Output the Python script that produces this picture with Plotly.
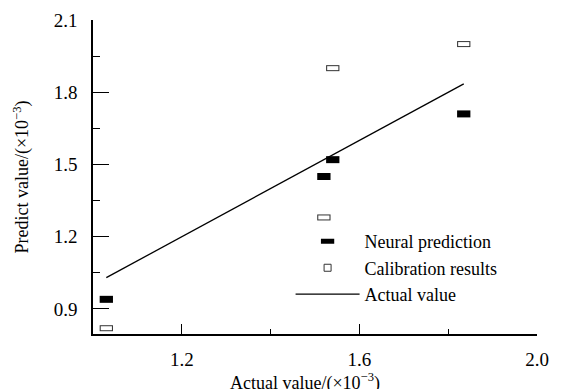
import plotly.graph_objects as go

actual = [1.03, 1.52, 1.54, 1.835]
neural_x = [1.03, 1.52, 1.54, 1.835]
neural_y = [0.94, 1.45, 1.52, 1.71]
calib_x = [1.03, 1.52, 1.54, 1.835]
calib_y = [0.82, 1.28, 1.90, 2.00]

x_ticks = [1.2, 1.6, 2.0]
x_minor = [1.4, 1.8]
y_ticks = [0.9, 1.2, 1.5, 1.8, 2.1]
y_minor = [1.05, 1.35, 1.65, 1.95]

FONT = "Liberation Serif"

fig = go.Figure()
fig.add_trace(go.Scatter(
    x=neural_x, y=neural_y, mode="markers", name="Neural prediction",
    marker=dict(symbol="line-ew", size=9.5, color="black",
                line=dict(width=7, color="black")),
))
fig.add_trace(go.Scatter(
    x=calib_x, y=calib_y, mode="markers", showlegend=False,
    marker=dict(symbol="line-ew", size=9.5, color="#333",
                line=dict(width=6, color="#333")),
))
fig.add_trace(go.Scatter(
    x=calib_x, y=calib_y, mode="markers", showlegend=False,
    marker=dict(symbol="line-ew", size=8, color="white",
                line=dict(width=4, color="white")),
))
fig.add_trace(go.Scatter(
    x=[None], y=[None], mode="markers", name="Calibration results",
    marker=dict(symbol="square-open", size=7, color="#333",
                line=dict(width=1, color="#333")),
))
fig.add_trace(go.Scatter(
    x=actual, y=actual, mode="lines", name="Actual value",
    line=dict(color="black", width=1.3),
))

fig.update_layout(
    width=562, height=389,
    margin=dict(l=93, r=25, t=20, b=55),
    paper_bgcolor="white", plot_bgcolor="white",
    font=dict(family=FONT, size=18, color="black"),
    showlegend=True,
    legend=dict(x=0.445, y=0.353, xanchor="left", yanchor="top",
                bgcolor="rgba(0,0,0,0)", font=dict(size=18),
                itemwidth=64),
    annotations=[dict(
        text="Actual value/(×10<sup>−3</sup>)", xref="paper", yref="paper",
        x=0.477, y=-0.152, xanchor="center", yanchor="middle",
        showarrow=False, font=dict(size=18),
    )],
)
fig.update_xaxes(
    range=[1.0, 2.0], tickmode="array", tickvals=x_ticks,
    ticktext=[f"{v:.1f}" for v in x_ticks],
    ticks="inside", ticklen=10, tickwidth=1.2, tickcolor="black",
    minor=dict(tickmode="array", tickvals=x_minor, ticks="inside",
               ticklen=5, tickwidth=1.2, tickcolor="black"),
    showline=True, linecolor="black", linewidth=1.5, mirror=False,
    showgrid=False, zeroline=False, automargin=False,
    ticklabelstandoff=7,
    tickfont=dict(size=19),
)
fig.update_yaxes(
    range=[0.796, 2.1], tickmode="array", tickvals=y_ticks,
    ticktext=[f"{v:.1f}" for v in y_ticks],
    ticks="inside", ticklen=16, tickwidth=1.2, tickcolor="black",
    minor=dict(tickmode="array", tickvals=y_minor,
               ticks="inside", ticklen=7, tickwidth=1.2, tickcolor="black"),
    showline=True, linecolor="black", linewidth=1.5, mirror=False,
    showgrid=False, zeroline=False, automargin=False,
    ticklabelstandoff=10,
    title=dict(text="Predict value/(×10<sup>−3</sup>)", standoff=20,
               font=dict(size=18)),
    tickfont=dict(size=19),
)

fig.write_html("out.html", config={"displayModeBar": False},
               post_script="document.body.style.margin='0';document.body.style.padding='0';")
